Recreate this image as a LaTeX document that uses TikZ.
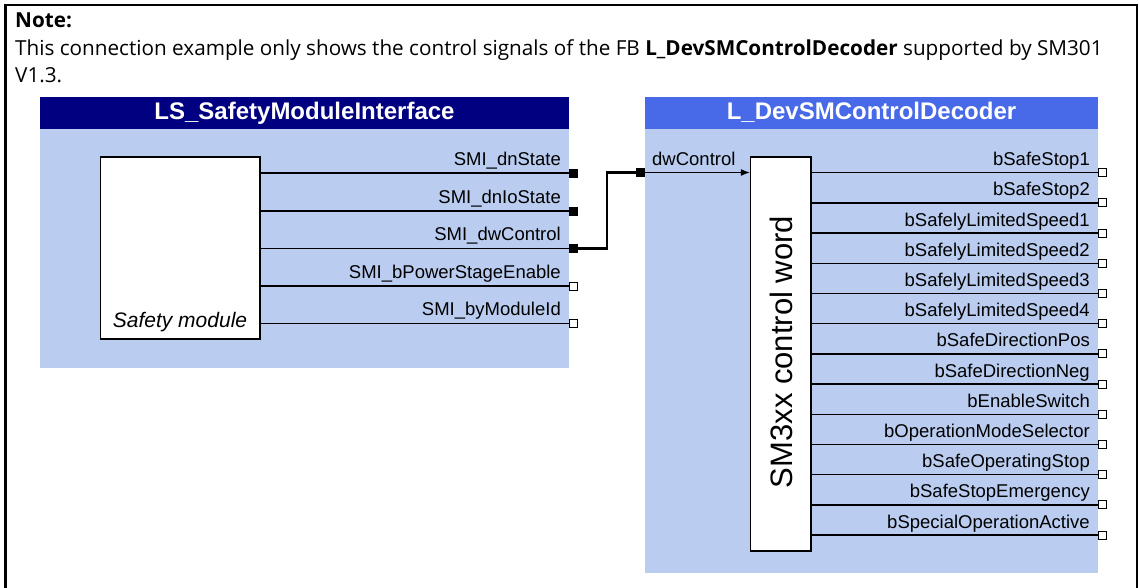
\documentclass[tikz,border=0pt]{standalone}
\usepackage{fontspec}
\setmainfont{Liberation Sans}
\newfontfamily\notefont{Open Sans}
\usetikzlibrary{arrows.meta}
\definecolor{navyhdr}{RGB}{0,0,128}
\definecolor{hdrblue}{RGB}{72,106,232}
\definecolor{bodyblue}{RGB}{186,205,240}
\begin{document}
\begin{tikzpicture}[x=1pt,y=-1pt,
  lbl/.style={font=\fontsize{18.5}{20}\selectfont, anchor=base east, inner sep=0pt},
  hdr/.style={font=\fontsize{24}{26}\selectfont\bfseries, text=white, anchor=base, inner sep=0pt},
  notetxt/.style={font=\notefont\fontsize{20.7}{24}\selectfont, anchor=base west, inner sep=0pt},
  sqf/.style={draw=black, fill=black, minimum size=8pt, inner sep=0pt, line width=0.8pt},
  sqo/.style={draw=black, fill=white, minimum size=8pt, inner sep=0pt, line width=1pt},
  fb/.style={draw=black, fill=white, line width=1.3pt, inner sep=0pt},
  wire/.style={line width=1.3pt},
  bus/.style={line width=2.4pt},
]
\useasboundingbox (0,0) rectangle (1140,587);
% frame
\draw[line width=2.4pt] (5.5,590) -- (5.5,5) -- (1137,5) -- (1137,590);
% note
\node[notetxt] (note1) at (15,27) {\bfseries Note:};
\node[notetxt] (note2) at (15,55) {This connection example only shows the control signals of the FB \textbf{L\_DevSMControlDecoder} supported by SM301};
\node[notetxt] (note3) at (15,82) {V1.3.};
% left block
\fill[navyhdr] (40,97) rectangle (569,128.5);
\fill[bodyblue] (40,128.5) rectangle (569,368);
\node[hdr] (lhdr) at (304.5,119.3) {LS\_SafetyModuleInterface};
\node[fb, minimum width=159.5pt, minimum height=182pt] (sm) at (180.25,248) {};
\node[font=\fontsize{21}{23}\selectfont\itshape, anchor=base, inner sep=0pt] (smt) at (180,327) {Safety module};
\foreach \i/\y/\t/\s in {1/173/SMI\_dnState/sqf, 2/211/SMI\_dnIoState/sqf, 3/248.5/SMI\_dwControl/sqf, 4/286/SMI\_bPowerStageEnable/sqo, 5/323.5/SMI\_byModuleId/sqo}{
  \node[\s] (lo\i) at (573,\y) {};
  \draw[wire] (sm.east |- lo\i) -- (lo\i.west);
  \node[lbl] (lt\i) at (561,\y-8) {\t};
}
% right block
\fill[hdrblue] (645,97) rectangle (1098,128.5);
\fill[bodyblue] (645,128.5) rectangle (1098,573);
\node[hdr] (rhdr) at (871.5,119.3) {L\_DevSMControlDecoder};
\node[fb, minimum width=60.5pt, minimum height=394pt] (dec) at (780.75,354) {};
\node[rotate=90, font=\fontsize{31}{33}\selectfont, inner sep=0pt] (dect) at (781,352) {SM3xx control word};
\foreach \t [count=\i from 0] in {bSafeStop1, bSafeStop2, bSafelyLimitedSpeed1, bSafelyLimitedSpeed2, bSafelyLimitedSpeed3, bSafelyLimitedSpeed4, bSafeDirectionPos, bSafeDirectionNeg, bEnableSwitch, bOperationModeSelector, bSafeOperatingStop, bSafeStopEmergency, bSpecialOperationActive}{
  \pgfmathsetmacro{\yy}{172.7+30.2*\i}
  \node[sqo] (ro\i) at (1102,\yy) {};
  \draw[wire] (dec.east |- ro\i) -- (ro\i.west);
  \node[lbl] (rt\i) at (1090,\yy-7) {\t};
}
% connection
\node[sqf] (dwsq) at (640.5,172.5) {};
\coordinate (bend) at (607,248.5);
\draw[bus] (lo3.east) -- (bend) |- (dwsq.west);
\draw[wire, -{Latex[length=9pt,width=7pt]}] (dwsq.east) -- (dec.west |- dwsq);
\node[font=\fontsize{18.5}{20}\selectfont, anchor=base west, inner sep=0pt] (dwl) at (652,165) {dwControl};
\end{tikzpicture}
\end{document}
